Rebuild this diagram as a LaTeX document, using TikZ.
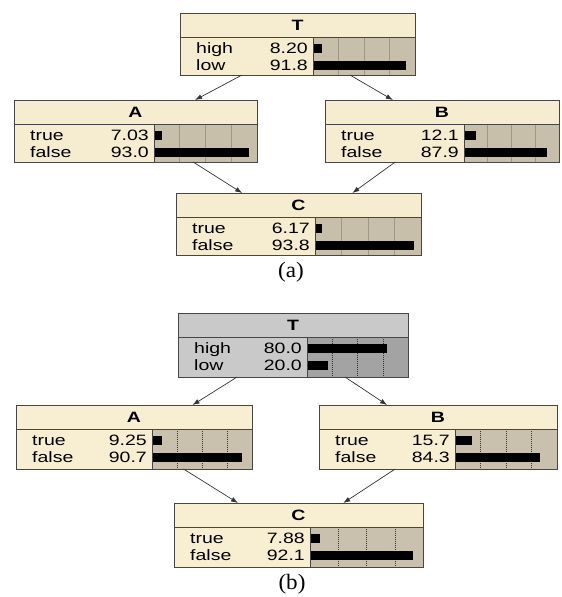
\documentclass[tikz,border=0pt]{standalone}
\usepackage{fontspec}
\setmainfont{Liberation Serif}
\newfontfamily\lsans{Liberation Sans}
\usetikzlibrary{arrows.meta,calc}
\definecolor{beigeA}{RGB}{246,236,208}
\definecolor{barA}{RGB}{200,191,171}
\definecolor{gridA}{RGB}{160,152,134}
\definecolor{beigeB}{RGB}{248,238,210}
\definecolor{barB}{RGB}{201,193,173}
\definecolor{grayT}{RGB}{201,201,201}
\definecolor{grayTbar}{RGB}{163,163,163}
\definecolor{bordc}{RGB}{70,70,70}
\newcommand\wt[1]{\scalebox{1.3}[1]{#1}}
\def\parsecoords#1,#2,#3,#4\relax{\def\xa{#1}\def\ya{#2}\def\xb{#3}\def\xc{#4}}
\def\schemeA{\def\H{62}\colorlet{tbg}{beigeA}\colorlet{lbg}{beigeA}\colorlet{gbg}{barA}%
  \tikzset{gridln/.style={draw=gridA,line width=0.7pt}}}
\def\schemeBT{\def\H{64}\colorlet{tbg}{grayT}\colorlet{lbg}{grayT}\colorlet{gbg}{grayTbar}%
  \tikzset{gridln/.style={draw=black!80,line width=0.5pt,dash pattern=on 1pt off 1pt}}}
\def\schemeB{\def\H{64}\colorlet{tbg}{beigeB}\colorlet{lbg}{beigeB}\colorlet{gbg}{barB}%
  \tikzset{gridln/.style={draw=black!80,line width=0.5pt,dash pattern=on 1pt off 1pt}}}
% #1 name, #2 x1,top,x2,xbar, #3 title, #4 l1, #5 v1, #6 l2, #7 v2, #8 scheme
\newcommand\bnbox[8]{%
  \parsecoords#2\relax
  #8%
  \pgfmathsetmacro\bw{\xb-\xa}%
  \pgfmathsetmacro\lena{(\xb-\xc-2)*#5/100}%
  \pgfmathsetmacro\lenb{(\xb-\xc-2)*#7/100}%
  \fill[tbg] (\xa,\ya) rectangle (\xb,\ya+24);
  \fill[lbg] (\xa,\ya+24) rectangle (\xc,\ya+\H);
  \fill[gbg] (\xc,\ya+24) rectangle (\xb,\ya+\H);
  \foreach \f in {0.25,0.5,0.75}{\draw[gridln] ({\xc+(\xb-\xc)*\f},\ya+24) -- ({\xc+(\xb-\xc)*\f},\ya+\H);}
  \fill[black] (\xc+1,\ya+24+7) rectangle ++(\lena,9);
  \fill[black] (\xc+1,\ya+24+24) rectangle ++(\lenb,9);
  \draw[bord] (\xa,\ya+24) -- (\xb,\ya+24);
  \draw[bord] (\xc,\ya+24) -- (\xc,\ya+\H);
  \node[boxn, minimum width=\bw pt, minimum height=\H pt, anchor=north west] (#1) at (\xa,\ya) {};
  \node[ttl] (#1-t) at ({(\xa+\xb)/2},\ya+17.5) {\wt{#3}};
  \node[lab, anchor=base west] (#1-l1) at (\xa+16,\ya+24+16.5) {\wt{#4}};
  \node[lab, anchor=base east] (#1-v1) at (\xc-5,\ya+24+16.5) {\wt{#5}};
  \node[lab, anchor=base west] (#1-l2) at (\xa+16,\ya+24+33.5) {\wt{#6}};
  \node[lab, anchor=base east] (#1-v2) at (\xc-5,\ya+24+33.5) {\wt{#7}};
}
\tikzset{
  bord/.style={draw=bordc,line width=0.8pt},
  boxn/.style={draw=bordc,line width=0.8pt,inner sep=0pt,outer sep=0pt},
  ttl/.style={anchor=base,inner sep=0pt,font=\lsans\bfseries\fontsize{15}{15}\selectfont},
  lab/.style={inner sep=0pt,font=\lsans\fontsize{15}{15}\selectfont},
  arr/.style={draw=black!80,line width=0.7pt,-{Latex[length=7pt,width=5pt]}},
  capt/.style={inner sep=0pt,font=\fontsize{22}{22}\selectfont}
}
\begin{document}
\begin{tikzpicture}[x=1pt,y=-1pt]
\useasboundingbox (0,0) rectangle (562,597);
% (a)
\bnbox{Ta}{180,13,415,313}{T}{high}{8.20}{low}{91.8}{\schemeA}
\bnbox{Aa}{14,100,257,154}{A}{true}{7.03}{false}{93.0}{\schemeA}
\bnbox{Ba}{325,100,559,464}{B}{true}{12.1}{false}{87.9}{\schemeA}
\bnbox{Ca}{176,193,421,315}{C}{true}{6.17}{false}{93.8}{\schemeA}
\draw[arr] ($(Ta.south west)!0.264!(Ta.south east)$) -- ($(Aa.north west)!0.745!(Aa.north east)$);
\draw[arr] ($(Ta.south west)!0.723!(Ta.south east)$) -- ($(Ba.north west)!0.29!(Ba.north east)$);
\draw[arr] ($(Aa.south west)!0.737!(Aa.south east)$) -- ($(Ca.north west)!0.27!(Ca.north east)$);
\draw[arr] ($(Ba.south west)!0.30!(Ba.south east)$) -- ($(Ca.north west)!0.72!(Ca.north east)$);
\node[capt] (capa) at (291,272) {\scalebox{1.05}[1]{(a)}};
% (b)
\bnbox{Tb}{178,313,408,307}{T}{high}{80.0}{low}{20.0}{\schemeBT}
\bnbox{Ab}{16,405,252,152}{A}{true}{9.25}{false}{90.7}{\schemeB}
\bnbox{Bb}{319,405,557,455}{B}{true}{15.7}{false}{84.3}{\schemeB}
\bnbox{Cb}{174,503,423,310}{C}{true}{7.88}{false}{92.1}{\schemeB}
\draw[arr] ($(Tb.south west)!0.257!(Tb.south east)$) -- ($(Ab.north west)!0.748!(Ab.north east)$);
\draw[arr] ($(Tb.south west)!0.726!(Tb.south east)$) -- ($(Bb.north west)!0.286!(Bb.north east)$);
\draw[arr] ($(Ab.south west)!0.71!(Ab.south east)$) -- ($(Cb.north west)!0.257!(Cb.north east)$);
\draw[arr] ($(Bb.south west)!0.32!(Bb.south east)$) -- ($(Cb.north west)!0.68!(Cb.north east)$);
\node[capt] (capb) at (292,584) {\scalebox{1.05}[1]{(b)}};
\end{tikzpicture}
\end{document}
